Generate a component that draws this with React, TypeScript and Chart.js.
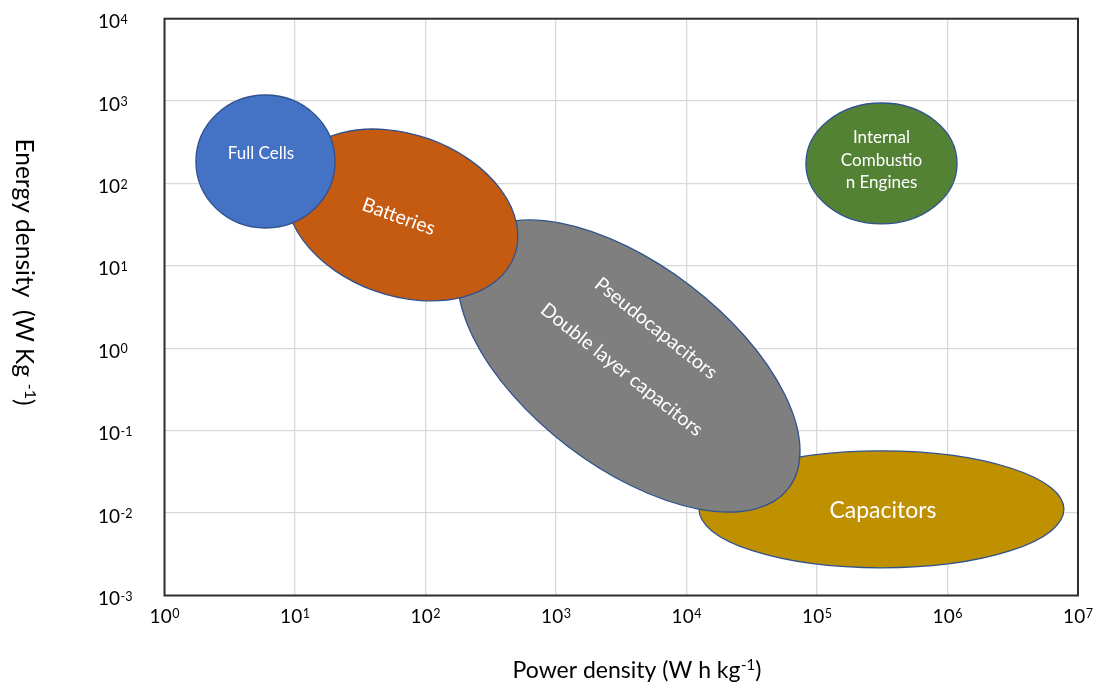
import React, { useEffect, useRef } from 'react';
import { Chart, registerables } from 'chart.js';

Chart.register(...registerables);

// ---- data ----
const regionNames = ['Capacitors', 'Pseudocapacitors', 'Batteries', 'Full Cells', 'Internal Combustion Engines'];
const centerPower = [3.12e5, 3624, 66, 5.94, 3.12e5];
const centerEnergy = [0.0111, 0.61, 41.5, 185, 175];
const semiAxisPowerDecades = [1.398, 1.54, 0.917, 0.533, 0.579];
const semiAxisEnergyDecades = [0.71, 1.226, 0.979, 0.807, 0.734];
const tiltDegrees = [0, 37.4, 19.6, 0, 0];
const regionLabels = [
  ['Capacitors'],
  ['Pseudocapacitors', 'Double layer capacitors'],
  ['Batteries'],
  ['Full Cells'],
  ['Internal', 'Combustio', 'n Engines'],
];
const xTickExponents = [0, 1, 2, 3, 4, 5, 6, 7];
const yTickExponents = [-3, -2, -1, 0, 1, 2, 3, 4];

// ---- styles ----
const FONT = 'Lato, "Open Sans", sans-serif';
const regionColors = ['#BF9000', '#7F7F7F', '#C55A11', '#4472C4', '#548235'];
const outlineColor = '#2F528F';
const labelStyle = [
  { size: 23, angle: 0, offsets: [[1.5, 0]] },
  { size: 19.5, angle: 38.5, offsets: [[-2.4, -47], [-3.5, 6.7]] },
  { size: 19.5, angle: 19.6, offsets: [[-2.5, 2]] },
  { size: 17, angle: 0, offsets: [[-4.5, -8.5]] },
  { size: 17, angle: 0, offsets: [[0, -26.5], [0, -3.5], [0, 18.5]] },
];

function drawSup(
  ctx: CanvasRenderingContext2D,
  main: string,
  sup: string,
  tail: string,
  x: number,
  baseline: number,
  mainSize: number,
  supSize: number,
  raise: number,
  align: 'left' | 'center'
) {
  ctx.font = `${mainSize}px ${FONT}`;
  const wMain = ctx.measureText(main).width;
  const wTail = tail ? ctx.measureText(tail).width : 0;
  ctx.font = `${supSize}px ${FONT}`;
  const wSup = ctx.measureText(sup).width;
  const gap = 0.5;
  const total = wMain + gap + wSup + wTail;
  const sx = align === 'center' ? x - total / 2 : x;
  ctx.textAlign = 'left';
  ctx.textBaseline = 'alphabetic';
  ctx.font = `${mainSize}px ${FONT}`;
  ctx.fillText(main, sx, baseline);
  ctx.font = `${supSize}px ${FONT}`;
  ctx.fillText(sup, sx + wMain + gap, baseline - raise);
  if (tail) {
    ctx.font = `${mainSize}px ${FONT}`;
    ctx.fillText(tail, sx + wMain + gap + wSup, baseline);
  }
}

const ragonePlugin = {
  id: 'ragone',
  beforeDatasetsDraw(chart: any) {
    const ctx: CanvasRenderingContext2D = chart.ctx;
    const xs = chart.scales.x;
    const ys = chart.scales.y;
    const pxDecX = xs.getPixelForValue(10) - xs.getPixelForValue(1);
    const pxDecY = ys.getPixelForValue(1) - ys.getPixelForValue(10);
    ctx.save();
    for (let i = 0; i < regionNames.length; i++) {
      const cx = xs.getPixelForValue(centerPower[i]);
      const cy = ys.getPixelForValue(centerEnergy[i]);
      const a = semiAxisPowerDecades[i] * pxDecX;
      const b = semiAxisEnergyDecades[i] * pxDecY;
      ctx.beginPath();
      ctx.ellipse(cx, cy, a, b, (tiltDegrees[i] * Math.PI) / 180, 0, Math.PI * 2);
      ctx.fillStyle = regionColors[i];
      ctx.fill();
      ctx.lineWidth = 1.3;
      ctx.strokeStyle = outlineColor;
      ctx.stroke();

      const st = labelStyle[i];
      const ang = (st.angle * Math.PI) / 180;
      ctx.save();
      ctx.translate(cx, cy);
      ctx.rotate(ang);
      ctx.fillStyle = '#ffffff';
      ctx.font = `${st.size}px ${FONT}`;
      ctx.textAlign = 'center';
      ctx.textBaseline = 'alphabetic';
      regionLabels[i].forEach((line, j) => {
        const [along, perp] = st.offsets[j];
        ctx.fillText(line, along, perp + st.size * 0.36);
      });
      ctx.restore();
    }
    ctx.restore();
  },
  afterDraw(chart: any) {
    const ctx: CanvasRenderingContext2D = chart.ctx;
    const { left, top, right, bottom } = chart.chartArea;
    const xs = chart.scales.x;
    const ys = chart.scales.y;
    ctx.save();
    // frame
    ctx.strokeStyle = '#2e2e2e';
    ctx.lineWidth = 2;
    ctx.strokeRect(left, top, right - left, bottom - top);

    ctx.fillStyle = '#000000';
    // x tick labels
    xTickExponents.forEach((e) => {
      const px = xs.getPixelForValue(Math.pow(10, e));
      drawSup(ctx, '10', String(e), '', px, bottom + 27, 19, 12.5, 4.5, 'center');
    });
    // y tick labels
    yTickExponents.forEach((e) => {
      const py = ys.getPixelForValue(Math.pow(10, e));
      drawSup(ctx, '10', String(e), '', 98, py + 9.5, 19, 12.5, 4.5, 'left');
    });

    // x title
    drawSup(ctx, 'Power density (W h kg', '-1', ')', 637, 678, 23, 15, 8, 'center');
    // y title
    ctx.save();
    ctx.translate(25, 272);
    ctx.rotate(Math.PI / 2);
    drawSup(ctx, 'Energy density  (W Kg ', '-1', ')', 0, 24.5 * 0.36, 24.5, 16, 8.5, 'center');
    ctx.restore();
    ctx.restore();
  },
};

export default function App() {
  const canvasRef = useRef<HTMLCanvasElement | null>(null);

  useEffect(() => {
    if (!canvasRef.current) return;
    const chart = new Chart(canvasRef.current, {
      type: 'scatter',
      data: {
        datasets: [
          {
            label: 'Region centres',
            data: regionNames.map((_, i) => ({ x: centerPower[i], y: centerEnergy[i] })),
            pointRadius: 0,
            pointHoverRadius: 0,
            showLine: false,
          },
        ],
      },
      options: {
        animation: false,
        responsive: true,
        maintainAspectRatio: false,
        events: [],
        layout: { padding: { left: 164.5, top: 18.7, right: 20, bottom: 90.5 } },
        plugins: { legend: { display: false }, tooltip: { enabled: false } },
        scales: {
          x: {
            type: 'logarithmic',
            min: 1,
            max: 1e7,
            afterBuildTicks: (axis: any) => {
              axis.ticks = xTickExponents.map((e) => ({ value: Math.pow(10, e) }));
            },
            ticks: { display: false },
            grid: { color: '#d9d9d9', lineWidth: 1.3, drawTicks: false },
            border: { display: false },
          },
          y: {
            type: 'logarithmic',
            min: 1e-3,
            max: 1e4,
            afterBuildTicks: (axis: any) => {
              axis.ticks = yTickExponents.map((e) => ({ value: Math.pow(10, e) }));
            },
            ticks: { display: false },
            grid: { color: '#d9d9d9', lineWidth: 1.3, drawTicks: false },
            border: { display: false },
          },
        },
      },
      plugins: [ragonePlugin],
    });
    return () => chart.destroy();
  }, []);

  return (
    <div style={{ position: 'fixed', left: 0, top: 0, width: 1098, height: 686, background: '#ffffff' }}>
      <canvas ref={canvasRef} />
    </div>
  );
}
